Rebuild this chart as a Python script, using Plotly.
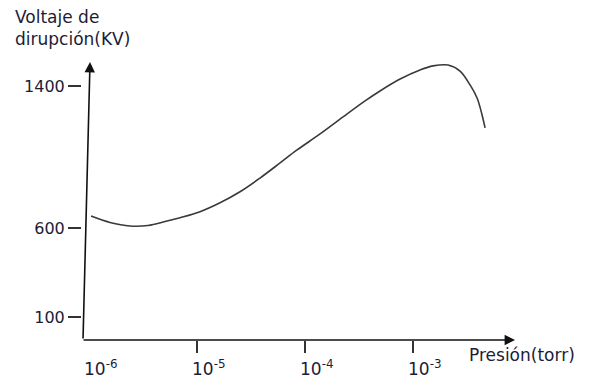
import plotly.graph_objects as go

# Breakdown voltage vs. pressure (Paschen-type curve)
pressure_torr = [10**-5.981, 10**-5.806, 10**-5.620, 10**-5.454, 10**-5.296,
                 10**-5.157, 10**-4.972, 10**-4.787, 10**-4.602, 10**-4.417,
                 10**-4.231, 10**-4.074, 10**-3.861, 10**-3.648, 10**-3.444,
                 10**-3.306, 10**-3.120, 10**-2.935, 10**-2.815, 10**-2.676,
                 10**-2.565, 10**-2.472, 10**-2.407, 10**-2.361, 10**-2.333]
voltage_kv = [668, 632, 612, 615, 637, 659, 693, 743, 805, 882,
              967, 1040, 1130, 1226, 1316, 1372, 1439, 1490, 1513, 1518,
              1484, 1406, 1332, 1237, 1164]

x_tick_exps = [-6, -5, -4, -3]
x_tick_labels = ["10<sup>-6</sup>", "10<sup>-5</sup>", "10<sup>-4</sup>", "10<sup>-3</sup>"]
y_tick_vals = [100, 600, 1400]
y_tick_labels = ["100", "600", "1400"]

FONT = "'DejaVu Sans', sans-serif"
TEXT = "#1c1c38"

fig = go.Figure()
fig.add_trace(go.Scatter(
    x=pressure_torr, y=voltage_kv, mode="lines",
    line=dict(color="#3a3a3a", width=1.6, shape="spline", smoothing=1.0),
    hoverinfo="skip", showlegend=False,
))

# tick labels on the pressure axis, set just right of each tick
for e, lab in zip(x_tick_exps, x_tick_labels):
    fig.add_annotation(x=e, y=-0.055, xref="x", yref="paper", text=lab,
                       showarrow=False, xanchor="left", yanchor="top",
                       xshift=-7, font=dict(family=FONT, size=17, color=TEXT))

# axis lines with arrowheads
fig.add_annotation(x=0.0185, y=1.0, xref="paper", yref="paper", ax=-7, ay=278,
                   axref="pixel", ayref="pixel", showarrow=True, text="",
                   arrowhead=2, arrowsize=1.3, arrowwidth=1.6, arrowcolor="#111")
fig.add_annotation(x=1.0, y=0.0, xref="paper", yref="paper", ax=-433, ay=0,
                   showarrow=True, text="",
                   arrowhead=2, arrowsize=1.3, arrowwidth=1.6, arrowcolor="#111")

fig.add_annotation(x=-0.16, y=1.205, xref="paper", yref="paper",
                   text="Voltaje de<br>dirupción(KV)", showarrow=False,
                   xanchor="left", yanchor="top", align="left",
                   font=dict(family=FONT, size=17, color=TEXT))
fig.add_annotation(x=0.888, y=-0.054, xref="paper", yref="paper",
                   text="Presión(torr)", showarrow=False,
                   xanchor="left", yanchor="middle",
                   font=dict(family=FONT, size=17, color=TEXT))

fig.update_layout(
    width=597, height=379,
    margin=dict(l=82, r=82, t=62, b=39),
    paper_bgcolor="white", plot_bgcolor="white",
    xaxis=dict(type="log", range=[-6.065, -2.056], showgrid=False, zeroline=False,
               showline=False, tickvals=[10**e for e in x_tick_exps[1:]],
               ticks="outside", ticklen=12, tickwidth=1.5, tickcolor="#333",
               showticklabels=False),
    yaxis=dict(range=[-29.4, 1535], showgrid=False, zeroline=False, showline=False,
               tickvals=y_tick_vals, ticktext=y_tick_labels,
               ticks="outside", ticklen=13, tickwidth=1.5, tickcolor="#333",
               tickfont=dict(family=FONT, size=16, color=TEXT)),
)

fig.write_html("out.html")
